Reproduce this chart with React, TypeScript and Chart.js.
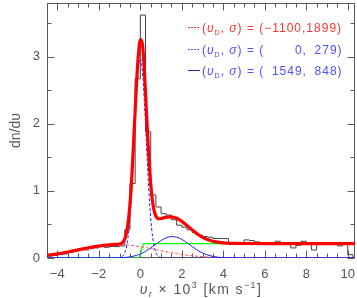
import { useEffect, useRef } from 'react';
import { Chart, registerables } from 'chart.js';

Chart.register(...registerables);

// ---------- data ----------
const HIST_LEFT_EDGES = [
  -4.5, -4.25, -4.0, -3.75, -3.5, -3.25, -3.0, -2.75, -2.5, -2.25, -2.0, -1.75, -1.5, -1.25, -1.0, -0.75, -0.5, -0.25,
  0.0, 0.25, 0.5, 0.75, 1.0, 1.25, 1.5, 1.75, 2.0, 2.25, 2.5, 2.75, 3.0, 3.25, 3.5, 3.75, 4.0, 4.25, 4.5, 4.75,
  5.0, 5.25, 5.5, 5.75, 6.0, 6.25, 6.5, 6.75, 7.0, 7.25, 7.5, 7.75, 8.0, 8.25, 8.5, 8.75, 9.0, 9.25, 9.5, 9.75, 10.0,
];
const HIST_VALUES = [
  0.03, 0.04, 0.05, 0.06, 0.08, 0.10, 0.13, 0.12, 0.14, 0.15, 0.17, 0.16, 0.17, 0.17, 0.18, 0.42, 1.11, 2.67,
  3.62, 1.88, 0.94, 0.76, 0.66, 0.64, 0.57, 0.49, 0.46, 0.42, 0.38, 0.34, 0.32, 0.31, 0.29, 0.29, 0.29, 0.20, 0.20, 0.20,
  0.27, 0.26, 0.24, 0.22, 0.22, 0.22, 0.25, 0.22, 0.22, 0.15, 0.19, 0.25, 0.22, 0.12, 0.22, 0.22, 0.22, 0.22, 0.18, 0.22, 0.05,
];
const HIST_RIGHT_END = [10.25];

const CURVE_V = [
  -4.5, -4, -3.5, -3, -2.5, -2, -1.5, -1.2, -1, -0.9, -0.8, -0.7, -0.6, -0.5, -0.4, -0.3, -0.2, -0.1,
  0, 0.1, 0.2, 0.3, 0.4, 0.5, 0.6, 0.7, 0.8, 0.9, 1, 1.25, 1.5, 1.75, 2, 2.25, 2.5, 2.75, 3, 3.5,
  4, 4.5, 5, 6, 7, 8, 9, 10, 10.35,
];
const TOTAL_FIT = [
  0.040, 0.062, 0.090, 0.121, 0.152, 0.179, 0.196, 0.202, 0.209, 0.220, 0.253, 0.334, 0.500, 0.803, 1.273, 1.879, 2.514, 3.007,
  3.253, 3.184, 2.760, 2.141, 1.552, 1.100, 0.814, 0.664, 0.601, 0.585, 0.588, 0.609, 0.612, 0.591, 0.546, 0.484, 0.419, 0.358, 0.308, 0.249,
  0.225, 0.219, 0.216, 0.215, 0.215, 0.215, 0.215, 0.215, 0.215,
];
const WIDE_COMPONENT = [
  0.040, 0.062, 0.090, 0.121, 0.152, 0.179, 0.196, 0.200, 0.200, 0.199, 0.198, 0.196, 0.193, 0.190, 0.187, 0.183, 0.179, 0.174,
  0.169, 0.164, 0.158, 0.152, 0.146, 0.140, 0.134, 0.127, 0.121, 0.115, 0.108, 0.093, 0.078, 0.065, 0.053, 0.042, 0.033, 0.026, 0.019, 0.011,
  0.005, 0.003, 0.001, 0, 0, 0, 0, 0, 0,
];
const NARROW_COMPONENT = [
  0, 0, 0, 0, 0, 0, 0, 0, 0.005, 0.016, 0.048, 0.128, 0.294, 0.596, 1.063, 1.666, 2.297, 2.785,
  2.97, 2.785, 2.297, 1.666, 1.063, 0.596, 0.294, 0.128, 0.048, 0.016, 0.005, 0, 0, 0, 0, 0, 0, 0, 0, 0,
  0, 0, 0, 0, 0, 0, 0, 0, 0,
];
const SHIFTED_COMPONENT = [
  0, 0, 0, 0, 0, 0, 0, 0.002, 0.0035, 0.005, 0.007, 0.0095, 0.013, 0.017, 0.023, 0.030, 0.038, 0.048,
  0.060, 0.074, 0.090, 0.108, 0.128, 0.149, 0.171, 0.194, 0.217, 0.239, 0.260, 0.301, 0.319, 0.311, 0.278, 0.227, 0.171, 0.117, 0.074, 0.023,
  0.005, 0.001, 0, 0, 0, 0, 0, 0, 0,
];
const CONST_V = [-4.5, -0.05, 0.15, 10.35];
const CONST_Y = [0, 0, 0.215, 0.215];

const X_MAJOR = [-4, -2, 0, 2, 4, 6, 8, 10];
const X_MINOR = [-3.5, -3, -2.5, -1.5, -1, -0.5, 0.5, 1, 1.5, 2.5, 3, 3.5, 4.5, 5, 5.5, 6.5, 7, 7.5, 8.5, 9, 9.5];
const Y_MAJOR = [0, 1, 2, 3];
const Y_MINOR = [0.5, 1.5, 2.5, 3.5];

const LEGEND_VALUES = ['(\u22121100,1899)', '(\u2007\u2007\u2007\u20070,\u2007279)', '(\u20071549,\u2007848)'];
const LEGEND_TEXT_COLORS = ['rgb(255,50,50)', 'rgb(80,80,255)', 'rgb(80,80,255)'];
const LEGEND_LINE_COLORS = ['rgb(255,60,60)', 'rgb(90,90,255)', 'rgb(40,40,190)'];
const LEGEND_DASHED = [true, true, false];

const FONT = '"Liberation Sans", Arial, Helvetica, sans-serif';
const AXIS_COLOR = '#5a5a5a';
const TEXT_COLOR = '#555555';

type Seg = { t: string; size: number; italic?: boolean; dy?: number };

function drawSegs(
  ctx: CanvasRenderingContext2D,
  segs: Seg[],
  x: number,
  y: number,
  color: string,
  align: 'left' | 'center',
  spacing: number
) {
  const fontOf = (s: Seg) => `${s.italic ? 'italic ' : ''}${s.size}px ${FONT}`;
  (ctx as any).letterSpacing = `${spacing}px`;
  let total = 0;
  for (const s of segs) {
    ctx.font = fontOf(s);
    total += ctx.measureText(s.t).width;
  }
  let cx = align === 'center' ? x - total / 2 : x;
  ctx.fillStyle = color;
  ctx.textBaseline = 'alphabetic';
  ctx.textAlign = 'left';
  for (const s of segs) {
    ctx.font = fontOf(s);
    ctx.fillText(s.t, cx, y + (s.dy || 0));
    cx += ctx.measureText(s.t).width;
  }
  (ctx as any).letterSpacing = '0px';
}

const decorPlugin = {
  id: 'decor',
  beforeDatasetsDraw(chart: any) {
    const { ctx, chartArea: a, scales } = chart;
    const xs = scales.x;
    const ys = scales.y;
    const L = Math.round(a.left) + 0.5;
    const R = Math.round(a.right) - 0.5;
    const T = Math.round(a.top) + 0.5;
    const B = Math.round(a.bottom) - 0.5;
    ctx.save();
    ctx.strokeStyle = AXIS_COLOR;
    ctx.lineWidth = 1;
    ctx.strokeRect(L, T, R - L, B - T);
    ctx.beginPath();
    const xt = (v: number, len: number) => {
      const p = Math.round(xs.getPixelForValue(v)) + 0.5;
      ctx.moveTo(p, B);
      ctx.lineTo(p, B - len);
      ctx.moveTo(p, T);
      ctx.lineTo(p, T + len);
    };
    const yt = (v: number, len: number) => {
      const p = Math.round(ys.getPixelForValue(v)) + 0.5;
      ctx.moveTo(L, p);
      ctx.lineTo(L + len, p);
      ctx.moveTo(R, p);
      ctx.lineTo(R - len, p);
    };
    X_MAJOR.forEach((v) => xt(v, 7));
    X_MINOR.forEach((v) => xt(v, 4));
    Y_MAJOR.forEach((v) => yt(v, 7));
    Y_MINOR.forEach((v) => yt(v, 4));
    ctx.stroke();
    ctx.restore();
  },
  afterDraw(chart: any) {
    const { ctx, chartArea: a } = chart;
    ctx.save();
    // legend
    const rowsY = [27, 49, 70];
    rowsY.forEach((ry, i) => {
      ctx.save();
      ctx.beginPath();
      ctx.strokeStyle = LEGEND_LINE_COLORS[i];
      ctx.lineWidth = 1;
      ctx.setLineDash(LEGEND_DASHED[i] ? [2, 1] : []);
      ctx.moveTo(188, ry + 0.5);
      ctx.lineTo(200, ry + 0.5);
      ctx.stroke();
      ctx.restore();
      drawSegs(
        ctx,
        [
          { t: '(', size: 12 },
          { t: '\u03c5', size: 12, italic: true },
          { t: 'D', size: 7, dy: 3 },
          { t: ', ', size: 12 },
          { t: '\u03c3', size: 12, italic: true },
          { t: ') = ' + LEGEND_VALUES[i], size: 12 },
        ],
        202,
        ry + 5,
        LEGEND_TEXT_COLORS[i],
        'left',
        1.0
      );
    });
    // x axis title
    drawSegs(
      ctx,
      [
        { t: '\u03c5', size: 14, italic: true },
        { t: 'r', size: 9, italic: true, dy: 3 },
        { t: ' \u00d7 10', size: 14 },
        { t: '3', size: 9, dy: -6 },
        { t: ' [km s', size: 14 },
        { t: '\u22121', size: 9, dy: -6 },
        { t: ']', size: 14 },
      ],
      (a.left + a.right) / 2,
      294,
      TEXT_COLOR,
      'center',
      1.4
    );
    ctx.restore();
  },
};

export default function App() {
  const ref = useRef<HTMLCanvasElement>(null);
  useEffect(() => {
    const pts = (xs: number[], ys: number[]) => xs.map((x, i) => ({ x, y: ys[i] }));
    const histData = [
      ...pts(HIST_LEFT_EDGES, HIST_VALUES),
      { x: HIST_RIGHT_END[0], y: 0 },
    ];
    const chart = new Chart(ref.current as HTMLCanvasElement, {
      type: 'line',
      data: {
        datasets: [
          {
            label: 'total fit',
            data: pts(CURVE_V, TOTAL_FIT),
            borderColor: 'rgb(255,0,0)',
            borderWidth: 3.2,
            pointRadius: 0,
            cubicInterpolationMode: 'monotone',
          },
          {
            label: 'narrow',
            data: pts(CURVE_V, NARROW_COMPONENT),
            borderColor: 'rgb(30,30,255)',
            borderWidth: 1,
            borderDash: [3, 2],
            pointRadius: 0,
            cubicInterpolationMode: 'monotone',
          },
          {
            label: 'shifted',
            data: pts(CURVE_V, SHIFTED_COMPONENT),
            borderColor: 'rgb(30,30,255)',
            borderWidth: 1,
            pointRadius: 0,
            cubicInterpolationMode: 'monotone',
          },
          {
            label: 'wide',
            data: pts(CURVE_V, WIDE_COMPONENT),
            borderColor: 'rgb(255,70,70)',
            borderWidth: 1,
            borderDash: [3, 2],
            pointRadius: 0,
            cubicInterpolationMode: 'monotone',
          },
          {
            label: 'constant',
            data: pts(CONST_V, CONST_Y),
            borderColor: 'rgb(0,255,0)',
            borderWidth: 1.2,
            pointRadius: 0,
          },
          {
            label: 'histogram',
            data: histData,
            borderColor: '#444444',
            borderWidth: 1,
            pointRadius: 0,
            stepped: 'before',
          },
        ],
      },
      options: {
        responsive: false,
        animation: false,
        layout: { padding: { left: 0, right: 2, top: 3, bottom: 0 } },
        plugins: { legend: { display: false }, tooltip: { enabled: false } },
        scales: {
          x: {
            type: 'linear',
            min: -4.5,
            max: 10.35,
            grid: { display: false, drawTicks: false },
            border: { display: false },
            ticks: {
              padding: 9,
              color: TEXT_COLOR,
              font: { size: 13, family: FONT },
              autoSkip: false,
              maxRotation: 0,
              callback: (v: any) => String(v).replace('-', '\u2212'),
            },
            afterBuildTicks: (s: any) => {
              s.ticks = X_MAJOR.map((v) => ({ value: v }));
            },
            afterFit: (s: any) => {
              s.height = 40;
              s.paddingLeft = 0;
              s.paddingRight = 0;
            },
          },
          y: {
            type: 'linear',
            min: 0,
            max: 3.8,
            grid: { display: false, drawTicks: false },
            border: { display: false },
            ticks: {
              padding: 7,
              color: TEXT_COLOR,
              font: { size: 13, family: FONT },
              callback: (v: any) => String(v),
            },
            afterBuildTicks: (s: any) => {
              s.ticks = Y_MAJOR.map((v) => ({ value: v }));
            },
            afterFit: (s: any) => {
              s.width = 47;
              s.paddingTop = 0;
              s.paddingBottom = 0;
            },
            title: {
              display: true,
              text: 'dn/d\u03c5',
              color: TEXT_COLOR,
              font: { size: 14, family: FONT },
              padding: { top: 8, bottom: 0 },
            },
          },
        },
      },
      plugins: [decorPlugin],
    } as any);
    return () => chart.destroy();
  }, []);
  return (
    <canvas
      ref={ref}
      width={357}
      height={298}
      style={{ position: 'fixed', left: 0, top: 0, display: 'block', width: 357, height: 298 }}
    />
  );
}
